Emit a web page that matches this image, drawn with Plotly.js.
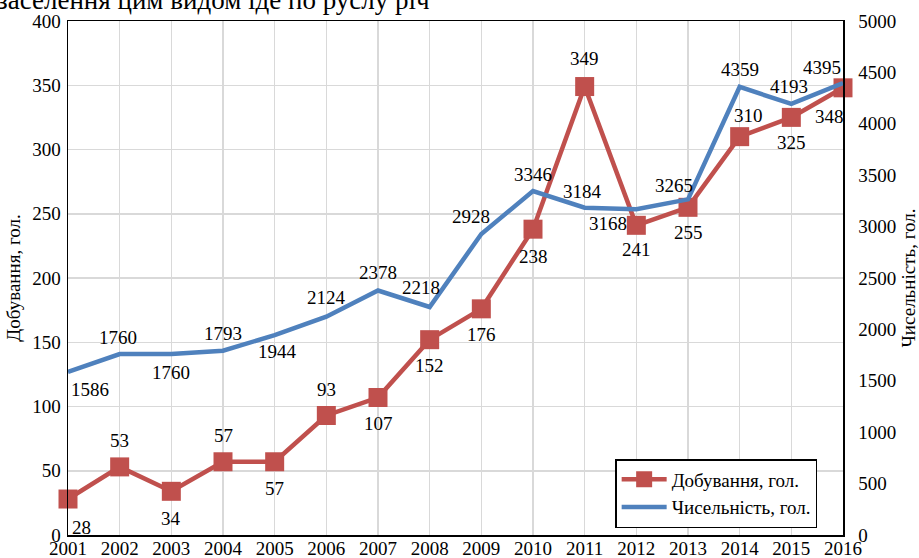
<!DOCTYPE html>
<html>
<head>
<meta charset="utf-8">
<script src="https://cdn.plot.ly/plotly-3.0.1.min.js"></script>
<style>html,body{margin:0;padding:0;background:#fff;}#chart{width:919px;height:558px;}</style>
</head>
<body>
<div id="chart"></div>
<script>
const years = [2001,2002,2003,2004,2005,2006,2007,2008,2009,2010,2011,2012,2013,2014,2015,2016];
const harvest = [28,53,34,57,57,93,107,152,176,238,349,241,255,310,325,348];
const population = [1586,1760,1760,1793,1944,2124,2378,2218,2928,3346,3184,3168,3265,4359,4193,4395];
const harvestName = 'Добування, гол.';
const popName = 'Чисельність, гол.';
const leftTitle = 'Добування, гол.';
const rightTitle = 'Чисельність, гол.';
const topText = 'заселення цим видом іде по руслу річ';

// label offsets in pixels (style only): [dx, dy] with dy positive = up
const harvestOffsets = [[13,-28],[0,26],[0,-27],[0,26],[0,-27],[0,26],[0,-26],[0,-26],[0,-26],[0,-27],[0,28],[0,-24],[0,-25],[9,21],[0,-25],[-14,-29]];
const popOffsets = [[22,-18],[-2,17],[0,-18],[0,17],[3,-16],[0,19],[0,18],[-9,19],[-10,18],[0,17],[-2,16],[-28,-14],[-14,14],[0,17],[-2,17],[-21,16]];

const serif = "'Liberation Serif', 'Times New Roman', Times, serif";
const traces = [
  {x: years, y: population, name: popName, yaxis: 'y2', type: 'scatter', mode: 'lines',
   line: {color: '#4F81BD', width: 4.5}, cliponaxis: false},
  {x: years, y: harvest, name: harvestName, type: 'scatter', mode: 'lines+markers',
   line: {color: '#C0504D', width: 4.5}, marker: {symbol: 'square', size: 19, color: '#C0504D'}, cliponaxis: false}
];
const annotations = [];
years.forEach((yr, i) => {
  annotations.push({x: yr, y: population[i], xref: 'x', yref: 'y2', text: String(population[i]), showarrow: false,
    xshift: popOffsets[i][0], yshift: popOffsets[i][1], font: {family: serif, size: 19, color: '#000'}});
  annotations.push({x: yr, y: harvest[i], xref: 'x', yref: 'y', text: String(harvest[i]), showarrow: false,
    xshift: harvestOffsets[i][0], yshift: harvestOffsets[i][1], font: {family: serif, size: 19, color: '#000'}});
});
annotations.push({text: topText, xref: 'paper', yref: 'paper', x: -0.094, y: 1.008, xanchor: 'left', yanchor: 'bottom',
  showarrow: false, font: {family: serif, size: 27, color: '#000'}});

const layout = {
  width: 919, height: 558,
  margin: {l: 68, r: 76, t: 21, b: 23},
  paper_bgcolor: '#fff', plot_bgcolor: '#fff',
  font: {family: serif, size: 19, color: '#000'},
  showlegend: true,
  legend: {x: 0.706, y: 0.0136, xanchor: 'left', yanchor: 'bottom', bgcolor: '#fff', bordercolor: '#000', borderwidth: 1.5,
    font: {family: serif, size: 19, color: '#000'}, traceorder: 'reversed', itemwidth: 45},
  xaxis: {range: [2001, 2016], dtick: 1, tick0: 2001, showgrid: true, gridcolor: '#d9d9d9', gridwidth: 1.5,
    showline: true, linecolor: '#000', linewidth: 1.5, mirror: true, ticks: '', zeroline: false,
    tickfont: {family: serif, size: 19}, ticklabelstandoff: -4},
  yaxis: {range: [0, 400], dtick: 50, showgrid: true, gridcolor: '#d9d9d9', gridwidth: 1.5,
    showline: true, linecolor: '#000', linewidth: 1.5, ticks: '', zeroline: false,
    tickfont: {family: serif, size: 19}, ticklabelstandoff: 2,
    title: {text: leftTitle, font: {family: serif, size: 19}, standoff: 6}},
  yaxis2: {range: [0, 5000], dtick: 500, overlaying: 'y', side: 'right', showgrid: false,
    showline: true, linecolor: '#000', linewidth: 1.5, ticks: '', zeroline: false,
    tickfont: {family: serif, size: 19}, ticklabelstandoff: 10,
    title: {text: rightTitle, font: {family: serif, size: 19}, standoff: 6}},
  annotations: annotations
};
Plotly.newPlot('chart', traces, layout, {displayModeBar: false, staticPlot: true});
</script>
</body>
</html>
